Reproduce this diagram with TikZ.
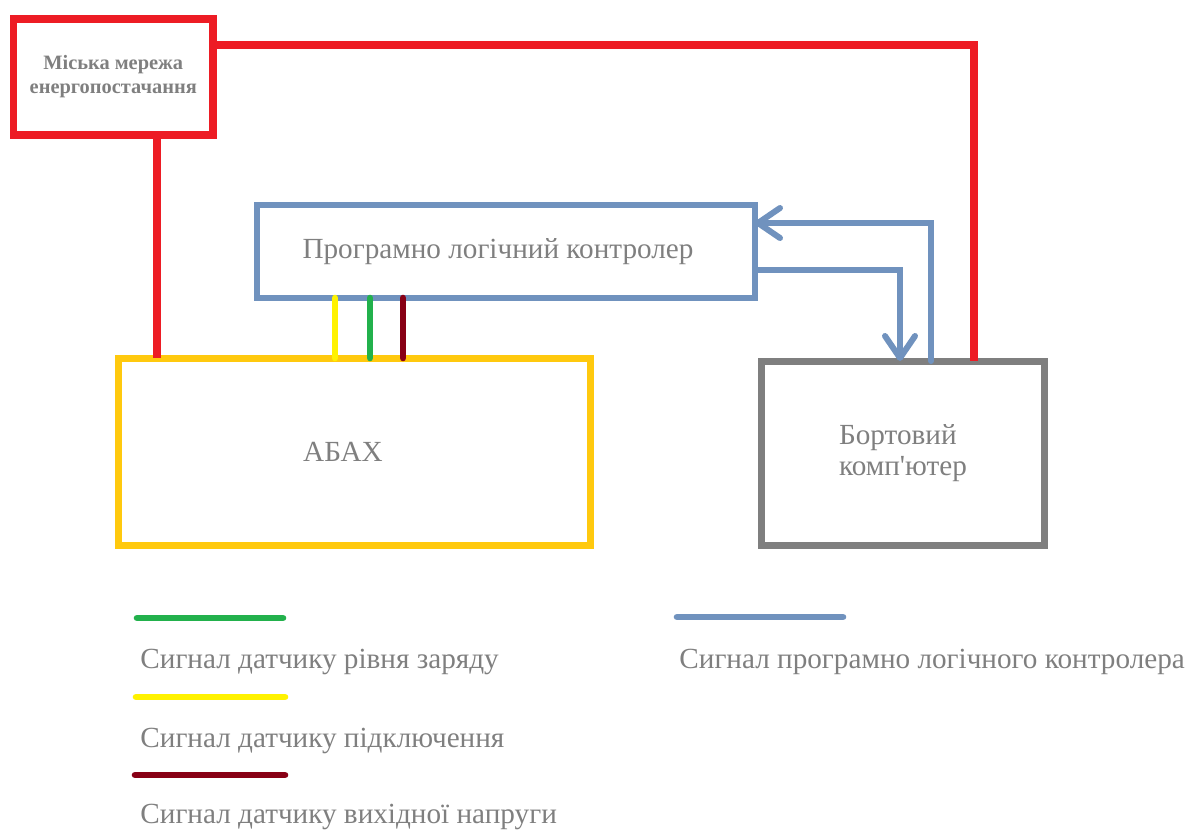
\documentclass[tikz,border=0pt]{standalone}
\usepackage{fontspec}
\setmainfont{Liberation Serif}
\usepackage{xcolor}
\usetikzlibrary{positioning,arrows.meta}

\definecolor{mainsred}{HTML}{ED1C24}
\definecolor{plcblue}{HTML}{7092BE}
\definecolor{boxgray}{HTML}{7F7F7F}
\definecolor{abaxyellow}{HTML}{FFC90E}
\definecolor{linkyellow}{HTML}{FFF200}
\definecolor{linkgreen}{HTML}{22B14C}
\definecolor{linkmaroon}{HTML}{880015}
\definecolor{labelgray}{HTML}{7F7F7F}

\begin{document}
\begin{tikzpicture}[
  x=0.5pt, y=-0.5pt,
  font=\fontsize{14.6}{15.6}\selectfont,
  text=labelgray,
  block/.style={draw, rectangle, outer sep=0pt, inner sep=2pt, align=center},
  power/.style={draw=mainsred, line width=3.6pt},
  signal/.style={draw=plcblue, line width=3pt, line cap=round},
  feed/.style={signal, -{Straight Barb[length=11pt, width=15pt, round]}},
  sense/.style={line width=3.3pt, line cap=round},
  legendtext/.style={anchor=base west, inner sep=0pt}
]
\useasboundingbox (0,0) rectangle (1202,831);

% blocks
\node[block, draw=mainsred, line width=3.6pt, minimum width=99.75pt, minimum height=58pt,
      font=\fontsize{10.2}{12}\selectfont\bfseries] (grid) at (113.25,77)
      {Міська мережа\\енергопостачання};
\node[block, draw=plcblue, line width=3pt, minimum width=249pt, minimum height=46.5pt] (plc) at (506,251.5)
      {\hspace*{-8pt}Програмно логічний контролер};
\node[block, draw=abaxyellow, line width=3.5pt, minimum width=236pt, minimum height=93.5pt] (abax) at (354,451.5)
      {\hspace*{-11pt}АБАХ};
\node[block, draw=boxgray, line width=3.5pt, minimum width=141.5pt, minimum height=92pt, align=left] (pc) at (903,453)
      {Бортовий\\[0pt]комп\textquotesingle ютер};

% power lines
\draw[power] ([yshift=-13pt]grid.north east) -| ([xshift=35.5pt]pc.north);
\draw[power] ([xshift=21.9pt]grid.south) -- ([xshift=21.9pt]grid.south |- abax.north);

% controller <-> computer
\draw[feed] ([xshift=14pt]pc.north) |- ([yshift=14.25pt]plc.east);
\draw[feed] ([yshift=-9.25pt]plc.east) -| ([xshift=-1.5pt]pc.north);

% sensor lines
\foreach \dx/\col in {-85.5/linkyellow, -68/linkgreen, -51.5/linkmaroon}
  \draw[sense, draw=\col] ([xshift=\dx pt]plc.south) -- ([xshift=\dx pt]plc.south |- abax.north);

% legend
\coordinate (greenA) at (137,618);  \coordinate (greenB) at (283,618);
\coordinate (yellowA) at (136,697); \coordinate (yellowB) at (285,697);
\coordinate (maroonA) at (135,775); \coordinate (maroonB) at (285,775);
\coordinate (blueA) at (677,617);   \coordinate (blueB) at (843,617);
\draw[sense, draw=linkgreen] (greenA) -- (greenB);
\draw[sense, draw=linkyellow] (yellowA) -- (yellowB);
\draw[sense, draw=linkmaroon] (maroonA) -- (maroonB);
\draw[sense, draw=plcblue] (blueA) -- (blueB);
\node[legendtext] (lgreen) at (140,668) {Сигнал датчику рівня заряду};
\node[legendtext] (lyellow) at (140,747) {Сигнал датчику підключення};
\node[legendtext] (lmaroon) at (140,823) {Сигнал датчику вихідної напруги};
\node[legendtext] (lblue) at (679,668) {Сигнал програмно логічного контролера};
\end{tikzpicture}
\end{document}
